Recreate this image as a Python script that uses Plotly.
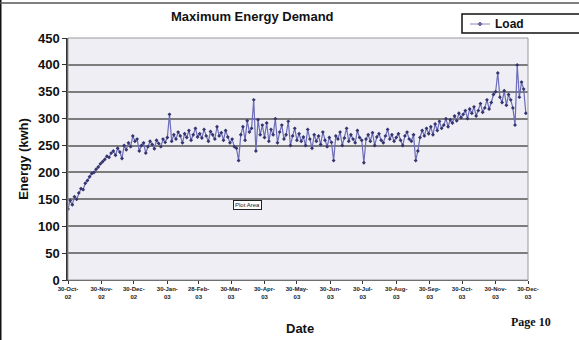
import pandas as pd
import plotly.graph_objects as go

start_date = "2002-10-30"
step_days = 2

load_values = [
    132, 148, 140, 155, 150, 162, 170, 168, 180, 185, 192, 198, 200, 206, 210, 216,
    220, 224, 230, 228, 236, 240, 232, 245, 238, 226, 250, 242, 255, 248, 268,
    258, 262, 240, 250, 255, 236, 248, 258, 252, 244, 260, 254, 248, 262, 256, 265,
    308, 258, 270, 262, 275, 268, 255, 272, 265, 278, 260, 270, 282, 266,
    272, 264, 280, 268, 258, 276, 270, 262, 285, 268, 274, 260, 278, 266, 255,
    262, 248, 245, 222, 270, 285, 260, 296, 275, 282, 335, 240, 298, 270, 288,
    265, 292, 258, 280, 270, 300, 255, 275, 288, 262, 270, 295, 250, 268, 282, 260,
    272, 258, 266, 250, 280, 262, 245, 270, 258, 268, 252, 275, 260, 248, 265,
    256, 222, 268, 262, 275, 250, 264, 282, 258, 270, 262, 255, 278, 265, 260,
    218, 262, 270, 258, 274, 250, 266, 272, 260, 255, 268, 280, 262, 270, 258,
    265, 272, 260, 250, 268, 275, 262, 258, 270, 222, 240, 265, 278, 268, 282, 272,
    285, 270, 290, 278, 295, 282, 288, 300, 285, 298, 292, 305, 296, 310, 302,
    308, 315, 300, 318, 310, 322, 305, 315, 328, 312, 320, 335, 318, 330, 345,
    350, 385, 340, 330, 352, 325, 345, 335, 320, 288, 400, 340, 368, 355, 310,
]

tick_dates = [
    "2002-10-30", "2002-11-30", "2002-12-30", "2003-01-30", "2003-02-28",
    "2003-03-30", "2003-04-30", "2003-05-30", "2003-06-30", "2003-07-30",
    "2003-08-30", "2003-09-30", "2003-10-30", "2003-11-30", "2003-12-30",
]
tick_labels = [
    "30-Oct-<br>02", "30-Nov-<br>02", "30-Dec-<br>02", "30-Jan-<br>03", "28-Feb-<br>03",
    "30-Mar-<br>03", "30-Apr-<br>03", "30-May-<br>03", "30-Jun-<br>03", "30-Jul-<br>03",
    "30-Aug-<br>03", "30-Sep-<br>03", "30-Oct-<br>03", "30-Nov-<br>03", "30-Dec-<br>03",
]
y_ticks = [0, 50, 100, 150, 200, 250, 300, 350, 400, 450]

dates = pd.date_range(start_date, periods=len(load_values), freq=f"{step_days}D")

FONT = "Liberation Sans, Arial, sans-serif"

fig = go.Figure()
fig.add_trace(go.Scatter(
    x=dates, y=load_values, mode="lines+markers", name="Load",
    line=dict(color="#6c6cb8", width=1.2),
    marker=dict(color="#34346e", size=3, symbol="diamond"),
    showlegend=False,
))

fig.update_layout(
    width=579, height=340,
    margin=dict(l=68, r=51, t=38, b=60),
    paper_bgcolor="white",
    plot_bgcolor="#eeeef4",
    font=dict(family=FONT, color="#111111"),
    xaxis=dict(
        type="date",
        range=["2002-10-30", "2003-12-30"],
        tickvals=tick_dates, ticktext=tick_labels,
        tickangle=0,
        tickfont=dict(size=6, family=FONT, color="#222222", weight="bold"),
        ticks="outside", ticklen=3, tickcolor="#333333",
        showgrid=False, showline=True, linecolor="#444444", linewidth=1,
        mirror=False, zeroline=False,
    ),
    yaxis=dict(
        range=[0, 450],
        tickvals=y_ticks,
        tickfont=dict(size=13, family=FONT, color="#111111", weight="bold"),
        ticks="outside", ticklen=4, tickcolor="#333333",
        showgrid=True, gridcolor="#7c7c7c", gridwidth=1.5,
        showline=True, linecolor="#333333", linewidth=1.5,
        zeroline=False,
        title=dict(text="Energy (kwh)", standoff=6,
                   font=dict(size=13, family=FONT, color="#111111", weight="bold")),
    ),
)

# plot area border
fig.add_shape(type="rect", xref="paper", yref="paper", x0=0, x1=1, y0=0, y1=1,
              line=dict(color="#999999", width=1), layer="above")

# page frame lines
fig.add_shape(type="line", xref="paper", yref="paper",
              x0=-68/460, x1=-68/460, y0=-60/242, y1=302/242,
              line=dict(color="#111111", width=3))
fig.add_shape(type="line", xref="paper", yref="paper",
              x0=-68/460, x1=511/460, y0=(280-3)/242, y1=(280-3)/242,
              line=dict(color="#555555", width=1.5))

# legend box (Excel-style)
fig.add_shape(type="rect", xref="paper", yref="paper",
              x0=(462-68)/460, x1=(590-68)/460, y0=(280-33)/242, y1=(280-14)/242,
              line=dict(color="#111111", width=1.5), fillcolor="white")
fig.add_shape(type="line", xref="paper", yref="paper",
              x0=(470-68)/460, x1=(490-68)/460, y0=(280-24)/242, y1=(280-24)/242,
              line=dict(color="#8a8ab8", width=1))
fig.add_shape(type="path", xref="paper", yref="paper",
              path=f"M {(480-68)/460},{(280-22)/242} L {(482-68)/460},{(280-24)/242} "
                   f"L {(480-68)/460},{(280-26)/242} L {(478-68)/460},{(280-24)/242} Z",
              line=dict(color="#6a6aa0", width=1), fillcolor="#6a6aa0")
fig.add_annotation(text="<b>Load</b>", xref="paper", yref="paper",
                   x=(493-68)/460, y=(280-24)/242, xanchor="left", yanchor="middle",
                   showarrow=False,
                   font=dict(size=12, family=FONT, color="#111111"))

fig.add_annotation(text="<b>Maximum Energy Demand</b>", xref="paper", yref="paper",
                   x=(252-68)/460, y=(280-17)/242, yanchor="middle", showarrow=False,
                   font=dict(size=13, family=FONT, color="#111111"))
fig.add_annotation(text="<b>Date</b>", xref="paper", yref="paper",
                   x=(300-68)/460, y=(280-328)/242, yanchor="middle", showarrow=False,
                   font=dict(size=13, family=FONT, color="#111111"))
fig.add_annotation(text="<b>Page 10</b>", xref="paper", yref="paper",
                   x=(553-68)/460, y=(280-322)/242, yanchor="middle", showarrow=False,
                   font=dict(size=12, family="Liberation Serif, serif", color="#111111"))
fig.add_annotation(text="Plot Area", xref="paper", yref="paper",
                   x=(247-68)/460, y=(280-205)/242, yanchor="middle", showarrow=False,
                   bgcolor="white", bordercolor="#222222", borderwidth=1, borderpad=1,
                   font=dict(size=6, family=FONT, color="#222222"))

fig.write_html("out.html")
